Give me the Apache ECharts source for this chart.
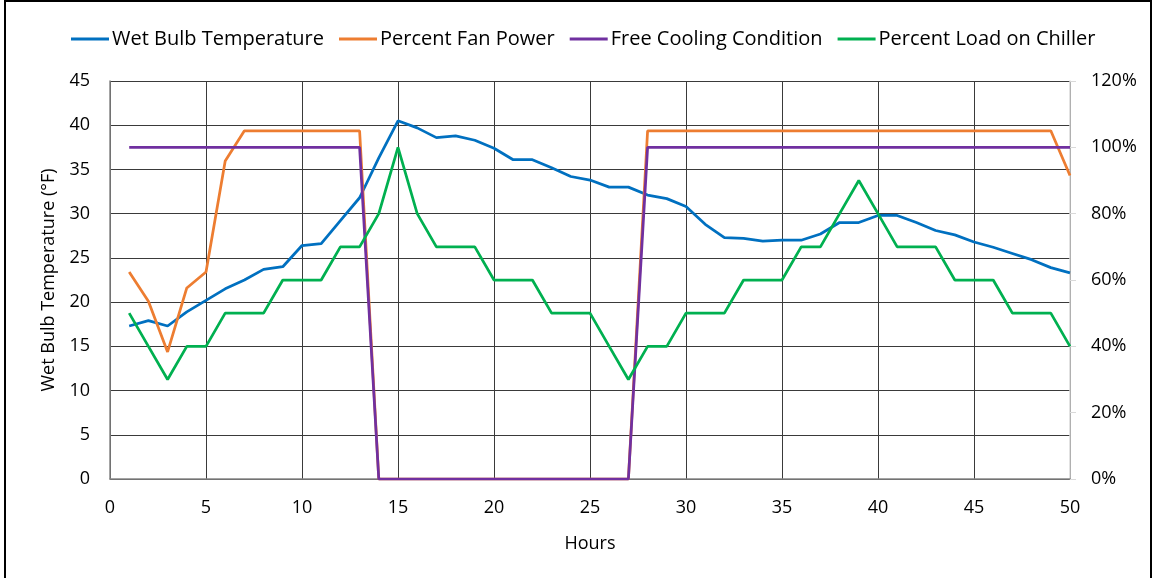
<!DOCTYPE html>
<html>
<head>
<meta charset="utf-8">
<script src="https://cdn.jsdelivr.net/npm/echarts@6/dist/echarts.min.js"></script>
<style>
  html, body { margin: 0; padding: 0; background: #fff; }
  #chart { width: 1154px; height: 578px; }
</style>
</head>
<body>
<div id="chart"></div>
<script>
// Hour of the run
const hours = [1,2,3,4,5,6,7,8,9,10,11,12,13,14,15,16,17,18,19,20,21,22,23,24,25,
               26,27,28,29,30,31,32,33,34,35,36,37,38,39,40,41,42,43,44,45,46,47,48,49,50];

// Wet bulb temperature, °F (left axis)
const wetBulb = [17.3,17.9,17.3,18.9,20.2,21.5,22.5,23.7,24.0,26.4,26.6,29.2,31.8,36.3,40.5,
                 39.7,38.6,38.8,38.3,37.4,36.1,36.1,35.2,34.2,33.8,33.0,33.0,32.1,31.7,30.8,
                 28.8,27.3,27.2,26.9,27.0,27.0,27.7,29.0,29.0,29.8,29.8,29.0,28.1,27.6,26.8,
                 26.2,25.5,24.8,23.9,23.3];

// Percent fan power (right axis)
const fanPower = [62.4,53.6,38.3,57.6,62.4,95.9,105,105,105,105,105,105,105,0,0,
                  0,0,0,0,0,0,0,0,0,0,0,0,105,105,105,
                  105,105,105,105,105,105,105,105,105,105,105,105,105,105,105,
                  105,105,105,105,91.5];

// Free cooling condition (right axis)
const freeCooling = [100,100,100,100,100,100,100,100,100,100,100,100,100,0,0,
                     0,0,0,0,0,0,0,0,0,0,0,0,100,100,100,
                     100,100,100,100,100,100,100,100,100,100,100,100,100,100,100,
                     100,100,100,100,100];

// Percent load on chiller (right axis)
const chillerLoad = [50,40,30,40,40,50,50,50,60,60,60,70,70,80,100,
                     80,70,70,70,60,60,60,50,50,50,40,30,40,40,50,
                     50,50,60,60,60,70,70,80,90,80,70,70,70,60,60,
                     60,50,50,50,40];

const seriesNames = ['Wet Bulb Temperature', 'Percent Fan Power', 'Free Cooling Condition', 'Percent Load on Chiller'];
const seriesColors = ['#0070C0', '#ED7D31', '#7030A0', '#00B050'];

const pair = arr => hours.map((h, i) => [h, arr[i]]);
const FONT = 'Open Sans';

function lineSeries(idx, values, yIndex) {
  return {
    name: seriesNames[idx],
    type: 'line',
    yAxisIndex: yIndex,
    data: pair(values),
    symbol: 'none',
    smooth: false,
    lineStyle: { width: 2.75, color: seriesColors[idx] },
    itemStyle: { color: seriesColors[idx] },
    z: 3 + idx
  };
}

const chart = echarts.init(document.getElementById('chart'), null, { renderer: 'canvas' });
chart.setOption({
  animation: false,
  backgroundColor: '#ffffff',
  textStyle: { fontFamily: FONT },
  graphic: [{
    type: 'rect',
    shape: { x: 5, y: 1, width: 1146, height: 590 },
    style: { fill: 'none', stroke: '#000', lineWidth: 2 },
    silent: true
  }],
  legend: {
    top: 24,
    left: 66,
    itemWidth: 38,
    itemHeight: 3,
    itemGap: 15,
    icon: 'rect',
    textStyle: { fontFamily: FONT, fontSize: 20, color: '#000', padding: [0, 0, 0, -2] },
    data: seriesNames
  },
  grid: { left: 110, right: 84, top: 81, bottom: 99, containLabel: false },
  xAxis: {
    type: 'value',
    min: 0, max: 50, interval: 5,
    name: 'Hours',
    nameLocation: 'middle',
    nameGap: 56,
    nameTextStyle: { fontFamily: FONT, fontSize: 18, color: '#000' },
    axisLine: { show: true, lineStyle: { color: '#868686', width: 1.5 } },
    axisTick: { show: false },
    axisLabel: { fontFamily: FONT, fontSize: 18, color: '#000', margin: 20 },
    splitLine: { show: true, lineStyle: { color: '#3a3a3a', width: 1 } }
  },
  yAxis: [{
    type: 'value',
    min: 0, max: 45, interval: 5,
    name: 'Wet Bulb Temperature (°F)',
    nameLocation: 'middle',
    nameGap: 52,
    nameTextStyle: { fontFamily: FONT, fontSize: 18, color: '#000' },
    axisLine: { show: true, lineStyle: { color: '#868686', width: 1.5 } },
    axisTick: { show: false },
    axisLabel: { fontFamily: FONT, fontSize: 18, color: '#000', margin: 20 },
    splitLine: { show: true, lineStyle: { color: '#3a3a3a', width: 1 } }
  }, {
    type: 'value',
    min: 0, max: 120, interval: 20,
    position: 'right',
    axisLine: { show: true, lineStyle: { color: '#d9d9d9', width: 1.5 } },
    axisTick: { show: true, length: 6, lineStyle: { color: '#d9d9d9' } },
    axisLabel: { fontFamily: FONT, fontSize: 18, color: '#000', margin: 21, formatter: '{value}%' },
    splitLine: { show: false }
  }],
  series: [
    lineSeries(0, wetBulb, 0),
    lineSeries(1, fanPower, 1),
    lineSeries(2, freeCooling, 1),
    lineSeries(3, chillerLoad, 1)
  ]
});
</script>
</body>
</html>
